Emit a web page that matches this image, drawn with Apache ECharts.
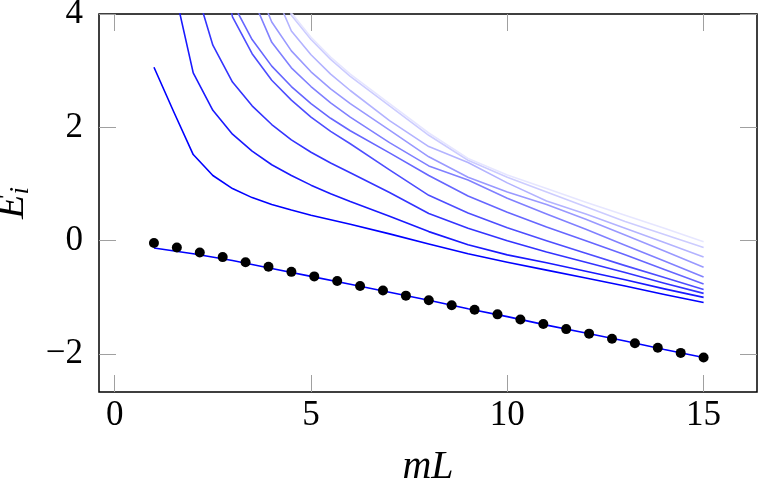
<!DOCTYPE html>
<html>
<head>
<meta charset="utf-8">
<script src="https://cdn.jsdelivr.net/npm/echarts@6/dist/echarts.min.js"></script>
<style>
  html, body { margin: 0; padding: 0; background: #fff; }
  #chart { width: 760px; height: 491px; }
</style>
</head>
<body>
<div id="chart"></div>
<script>
// x grid for the excited levels (mL)
var mL = [1, 1.5, 2, 2.5, 3, 3.5, 4, 4.5, 5, 5.5, 6, 7, 8, 9, 10, 11, 12, 13, 14, 15];

// excited levels E_1 .. E_10 (null = not drawn, values above 4 run off the top)
var E1  = [3.06, 2.28, 1.52, 1.15, 0.92, 0.76, 0.64, 0.54, 0.45, 0.37, 0.29, 0.12, -0.06, -0.23, -0.38, -0.52, -0.66, -0.80, -0.95, -1.09];
var E2  = [null, 4.50, 2.96, 2.30, 1.88, 1.58, 1.34, 1.15, 0.98, 0.83, 0.69, 0.43, 0.16, -0.07, -0.25, -0.39, -0.54, -0.69, -0.85, -1.00];
var E3  = [null, null, 4.60, 3.45, 2.80, 2.38, 2.05, 1.78, 1.56, 1.37, 1.20, 0.85, 0.48, 0.22, 0.00, -0.20, -0.38, -0.56, -0.75, -0.93];
var E4  = [null, null, null, 5.50, 3.95, 3.30, 2.83, 2.48, 2.18, 1.93, 1.71, 1.25, 0.80, 0.49, 0.23, 0.00, -0.22, -0.44, -0.65, -0.86];
var E5  = [null, null, null, null, 4.20, 3.55, 3.08, 2.72, 2.42, 2.16, 1.94, 1.55, 1.15, 0.79, 0.50, 0.24, 0.00, -0.25, -0.51, -0.765];
var E6  = [null, null, null, null, null, 4.30, 3.50, 3.05, 2.72, 2.43, 2.18, 1.73, 1.32, 1.07, 0.75, 0.47, 0.20, -0.08, -0.36, -0.64];
var E7  = [null, null, null, null, null, 4.70, 3.86, 3.35, 2.98, 2.68, 2.42, 1.95, 1.48, 1.12, 0.86, 0.64, 0.38, 0.10, -0.18, -0.47];
var E8  = [null, null, null, null, null, null, 4.50, 3.70, 3.28, 2.94, 2.65, 2.12, 1.66, 1.38, 1.02, 0.70, 0.47, 0.22, -0.03, -0.29];
var E9  = [null, null, null, null, null, null, 5.00, 3.98, 3.55, 3.20, 2.90, 2.38, 1.86, 1.42, 1.12, 0.86, 0.60, 0.34, 0.11, -0.12];
var E10 = [null, null, null, null, null, null, 5.05, 4.02, 3.59, 3.24, 2.94, 2.42, 1.90, 1.45, 1.16, 0.92, 0.68, 0.45, 0.22, -0.02];

// ground state, fitted line
var groundL = [1, 2, 3, 4, 5, 6, 7, 8, 9, 10, 11, 12, 13, 14, 15];
var groundE = [-0.13, -0.23, -0.35, -0.49, -0.63, -0.77, -0.91, -1.05, -1.20, -1.34, -1.49, -1.63, -1.77, -1.92, -2.06];

// ground state, data points
var dotL = [1, 1.583, 2.167, 2.75, 3.333, 3.917, 4.5, 5.083, 5.667, 6.25, 6.833, 7.417, 8,
            8.583, 9.167, 9.75, 10.333, 10.917, 11.5, 12.083, 12.667, 13.25, 13.833, 14.417, 15];
var dotE = [-0.04, -0.12, -0.21, -0.29, -0.38, -0.46, -0.55, -0.63, -0.71, -0.80, -0.88, -0.97, -1.05,
            -1.14, -1.22, -1.30, -1.39, -1.47, -1.56, -1.64, -1.73, -1.81, -1.89, -1.98, -2.06];

var xTicks = [0, 5, 10, 15];
var yTicks = [-2, 0, 2, 4];

var levels = [E1, E2, E3, E4, E5, E6, E7, E8, E9, E10];
// blue!100 down to blue!10
var shades = [1.0, 0.9, 0.8, 0.7, 0.6, 0.5, 0.4, 0.3, 0.2, 0.1];

function mixBlue(f) {
    var c = Math.round(255 * (1 - f));
    return 'rgb(' + c + ',' + c + ',255)';
}

function pairs(xs, ys) {
    var out = [];
    for (var i = 0; i < xs.length; i++) {
        if (ys[i] !== null) out.push([xs[i], ys[i]]);
    }
    return out;
}

var font = 'Liberation Serif';
var tickStyle = { color: '#a0a0a0', width: 1 };

var series = [];
levels.forEach(function (lv, i) {
    series.push({
        type: 'line',
        data: pairs(mL, lv),
        showSymbol: false,
        symbol: 'none',
        clip: true,
        lineStyle: { color: mixBlue(shades[i]), width: 1.6, join: 'round' },
        itemStyle: { color: mixBlue(shades[i]) },
        z: 2
    });
});
series.push({
    type: 'line',
    data: pairs(groundL, groundE),
    showSymbol: false,
    symbol: 'none',
    lineStyle: { color: '#0000ff', width: 1.6 },
    itemStyle: { color: '#0000ff' },
    z: 3
});
series.push({
    type: 'scatter',
    data: pairs(dotL, dotE),
    symbol: 'circle',
    symbolSize: 10,
    itemStyle: { color: '#000', opacity: 1 },
    z: 4
});

var chart = echarts.init(document.getElementById('chart'), null, { renderer: 'canvas' });

var option = {
    animation: false,
    backgroundColor: '#fff',
    grid: {
        left: 99, right: 3, top: 14, bottom: 99,
        show: true, borderColor: '#000', borderWidth: 1.5,
        containLabel: false,
        outerBoundsMode: 'none'
    },
    xAxis: [
        {
            type: 'value', position: 'bottom',
            min: -0.4, max: 16.36,
            splitLine: { show: false },
            axisLine: { show: false, onZero: false },
            axisTick: { show: true, inside: true, length: 17, lineStyle: tickStyle, customValues: xTicks },
            axisLabel: { customValues: xTicks, fontFamily: font, fontSize: 35, color: '#000', margin: 6 },
            name: 'mL',
            nameLocation: 'middle',
            nameGap: 55,
            nameTextStyle: { fontFamily: font, fontSize: 40, fontStyle: 'italic', color: '#000' }
        },
        {
            type: 'value', position: 'top',
            min: -0.4, max: 16.36,
            splitLine: { show: false },
            axisLine: { show: false, onZero: false },
            axisTick: { show: true, inside: true, length: 17, lineStyle: tickStyle, customValues: xTicks },
            axisLabel: { show: false }
        }
    ],
    yAxis: [
        {
            type: 'value', position: 'left',
            min: -2.67, max: 4,
            splitLine: { show: false },
            axisLine: { show: false, onZero: false },
            axisTick: { show: true, inside: true, length: 17, lineStyle: tickStyle, customValues: yTicks },
            axisLabel: {
                customValues: yTicks, fontFamily: font, fontSize: 35, color: '#000', margin: 16,
                formatter: function (v) { return String(v).replace('-', '\u2212'); }
            },
            name: '{e|E}{s|i}',
            nameLocation: 'middle',
            nameGap: 53,
            nameRotate: 90,
            nameTextStyle: {
                color: '#000',
                rich: {
                    e: { fontFamily: font, fontSize: 40, fontStyle: 'italic', color: '#000' },
                    s: { fontFamily: font, fontSize: 27, fontStyle: 'italic', color: '#000', padding: [18, 0, 0, 0] }
                }
            }
        },
        {
            type: 'value', position: 'right',
            min: -2.67, max: 4,
            splitLine: { show: false },
            axisLine: { show: false, onZero: false },
            axisTick: { show: true, inside: true, length: 17, lineStyle: tickStyle, customValues: yTicks },
            axisLabel: { show: false }
        }
    ],
    series: series
};

chart.setOption(option);
</script>
</body>
</html>
